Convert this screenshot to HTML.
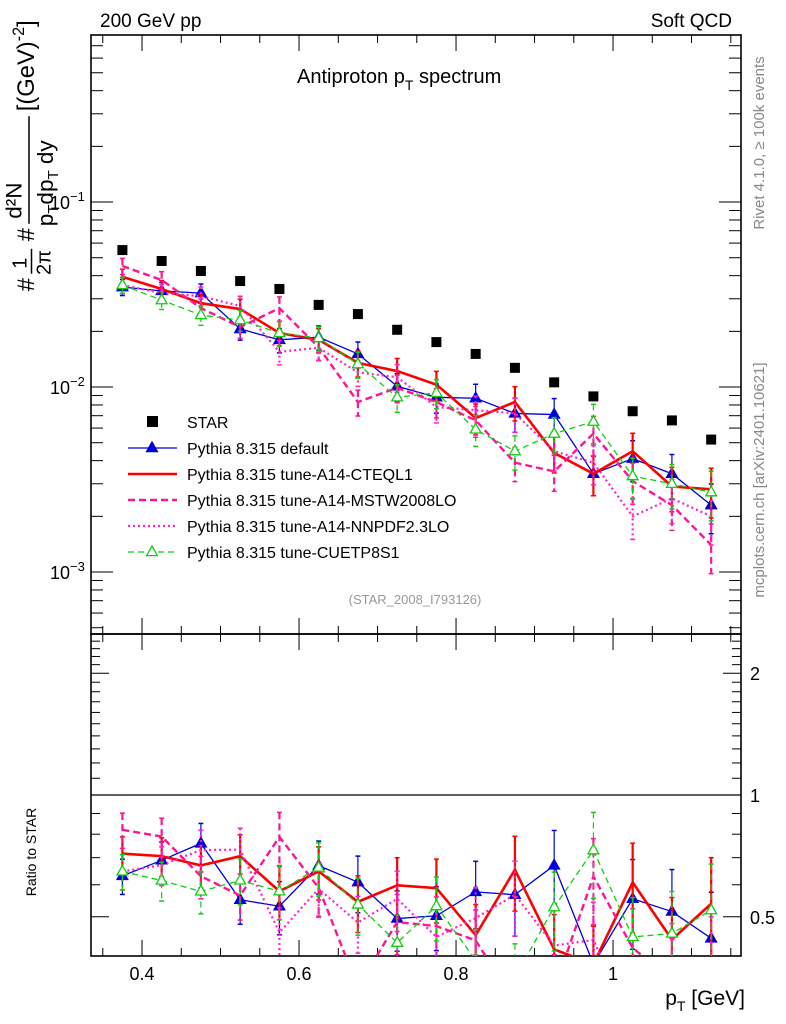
<!DOCTYPE html>
<html><head><meta charset="utf-8">
<style>
html,body{margin:0;padding:0;background:#fff;width:786px;height:1024px;overflow:hidden;}
svg{display:block;font-family:"Liberation Sans",sans-serif;}
</style></head>
<body>
<svg id="chart" width="786" height="1024" viewBox="0 0 786 1024" xmlns="http://www.w3.org/2000/svg">
<text x="100" y="27" font-size="19">200 GeV pp</text>
<text x="732" y="27" font-size="19" text-anchor="end">Soft QCD</text>
<text x="297" y="83" font-size="20">Antiproton p<tspan font-size="14" dy="7">T</tspan><tspan dy="-7"> spectrum</tspan></text>
<text transform="translate(764,143) rotate(-90)" font-size="15" fill="#888" text-anchor="middle">Rivet 4.1.0, ≥ 100k events</text>
<text transform="translate(764,480) rotate(-90)" font-size="15" fill="#888" text-anchor="middle">mcplots.cern.ch [arXiv:2401.10621]</text>
<text x="415" y="604" font-size="13" fill="#999" text-anchor="middle">(STAR_2008_I793126)</text>
<g transform="translate(34,150) rotate(-90) scale(1.25) translate(17,0)" font-size="19">
<text x="-130" y="0">#</text>
<text x="-112" y="-6" font-size="16">1</text>
<line x1="-116" y1="-2" x2="-96" y2="-2" stroke="#000" stroke-width="1.2"/>
<text x="-117" y="13" font-size="16">2π</text>
<text x="-90" y="0">#</text>
<text x="-72" y="-10" font-size="18">d²N</text>
<line x1="-76" y1="-4" x2="10" y2="-4" stroke="#000" stroke-width="1.2"/>
<text x="-78" y="15" font-size="18">p<tspan font-size="12" dy="4">T</tspan><tspan dy="-4">dp</tspan><tspan font-size="12" dy="4">T</tspan><tspan dy="-4"> dy</tspan></text>
<text x="14" y="0">[(GeV)<tspan font-size="13" dy="-8">-2</tspan><tspan dy="8">]</tspan></text>
</g>
<text transform="translate(36,852) rotate(-90)" font-size="14" text-anchor="middle">Ratio to STAR</text>
<text x="745" y="1005" font-size="21" text-anchor="end">p<tspan font-size="14" dy="6">T</tspan><tspan dy="-6"> [GeV]</tspan></text>
<g id="axes"></g>
<g id="marks"></g>
<g id="legend"></g>
</svg>
<script>
const xs=[0.375,0.425,0.475,0.525,0.575,0.625,0.675,0.725,0.775,0.825,0.875,0.925,0.975,1.025,1.075,1.125];
const star=[0.055,0.048,0.0424,0.0374,0.0339,0.0278,0.0248,0.0204,0.0175,0.0151,0.0127,0.0106,0.0089,0.0074,0.0066,0.0052];
const pyDefault=[0.0347,0.0331,0.0322,0.0206,0.0180,0.0186,0.0151,0.0101,0.0088,0.0087,0.0072,0.0071,0.0034,0.0041,0.0034,0.0023];
const pyA14CTEQ=[0.0394,0.0339,0.0284,0.0264,0.0196,0.0180,0.0135,0.0122,0.0103,0.0068,0.0083,0.0044,0.0034,0.0045,0.0029,0.0028];
const pyA14MSTW=[0.0451,0.0379,0.0267,0.0211,0.0267,0.0164,0.0083,0.0099,0.0083,0.0066,0.0039,0.0035,0.0056,0.0031,0.0023,0.0014];
const pyA14NNPDF=[0.0356,0.0322,0.0310,0.0274,0.0155,0.0163,0.0120,0.0113,0.0078,0.0075,0.0072,0.0045,0.0039,0.0020,0.0025,0.0020];
const pyCUETP8S1=[0.0356,0.0295,0.0245,0.0230,0.0196,0.0184,0.0133,0.0088,0.0093,0.0059,0.0045,0.0056,0.0065,0.0033,0.0030,0.0027];
const relErr=[0.10,0.11,0.12,0.13,0.15,0.15,0.16,0.17,0.18,0.19,0.21,0.22,0.24,0.25,0.27,0.30];
const xTicks=[0.4,0.6,0.8,1];
const xTickLabels=["0.4","0.6","0.8","1"];
const ratioTicks=[0.5,1,2];
const ratioTickLabels=["0.5","1","2"];

const L=91,R=741,T=35,MID=634,B=956;
const X0=0.335,X1=1.163;
const sx=v=>L+(v-X0)/(X1-X0)*(R-L);
const LOGTOP=-0.097,LOGBOT=-3.335;
const sy=v=>T+(LOGTOP-Math.log10(v))/(LOGTOP-LOGBOT)*(MID-T);
const RTOP=Math.log2(2.5),RBOT=Math.log2(0.4);
const sr=v=>MID+(RTOP-Math.log2(v))/(RTOP-RBOT)*(B-MID);
const NS="http://www.w3.org/2000/svg";
function mk(tag,attrs,parent){const e=document.createElementNS(NS,tag);for(const k in attrs)e.setAttribute(k,attrs[k]);parent.appendChild(e);return e;}
const axes=document.getElementById('axes'),marks=document.getElementById('marks'),leg=document.getElementById('legend');

const defs=mk('defs',{},document.getElementById('chart'));
const c1=mk('clipPath',{id:'ctop'},defs);mk('rect',{x:L,y:T,width:R-L,height:MID-T},c1);
const c2=mk('clipPath',{id:'crat'},defs);mk('rect',{x:L,y:MID,width:R-L,height:B-MID},c2);

let f=mk('rect',{x:L,y:T,width:R-L,height:MID-T,fill:'none',stroke:'#000','stroke-width':1.6},axes);


f=mk('rect',{x:L,y:MID,width:R-L,height:B-MID,fill:'none',stroke:'#000','stroke-width':1.6},axes);


let one=mk('line',{x1:L,x2:R,y1:sr(1),y2:sr(1),stroke:'#000','stroke-width':1.3},axes);



for(let v=0.35;v<1.16;v+=0.05){
  const vv=Math.round(v*100)/100;const major=Math.abs(vv*10-Math.round(vv*10))<1e-6&&Math.round(vv*10)%2==0;
  const len=major?16:8,x=sx(vv);
  [[T,1],[MID,-1],[MID,1],[B,-1]].forEach(([y,d])=>mk('line',{x1:x,x2:x,y1:y,y2:y+d*len,stroke:'#000','stroke-width':1},axes));
}
xTicks.forEach((v,i)=>{const t=mk('text',{x:sx(v),y:980,'font-size':18,'text-anchor':'middle'},axes);t.textContent=xTickLabels[i];

});

for(let e=-4;e<=0;e++){for(let k=1;k<10;k++){const v=k*Math.pow(10,e);const y=sy(v);if(y<T||y>MID)continue;const len=k==1?22:12;
  mk('line',{x1:L,x2:L+len,y1:y,y2:y,stroke:'#000','stroke-width':1},axes);
  mk('line',{x1:R,x2:R-len,y1:y,y2:y,stroke:'#000','stroke-width':1},axes);}}
[-1,-2,-3].forEach(e=>{const t=mk('text',{x:50,y:sy(Math.pow(10,e))+7,'font-size':18},axes);
t.innerHTML='10<tspan font-size="13" dy="-8">−'+(-e)+'</tspan>';

});

for(let v=0.4;v<=2.5001;v+=0.1){const vv=Math.round(v*10)/10;const y=sr(vv);const major=[0.5,1,2].includes(vv);const len=major?18:9;
  mk('line',{x1:L,x2:L+len,y1:y,y2:y,stroke:'#000','stroke-width':1},axes);
  mk('line',{x1:R,x2:R-len,y1:y,y2:y,stroke:'#000','stroke-width':1},axes);}
ratioTicks.forEach((v,i)=>{const t=mk('text',{x:750,y:sr(v)+7,'font-size':18},axes);t.textContent=ratioTickLabels[i];

});

star.forEach((v,i)=>{const r=mk('rect',{x:sx(xs[i])-5,y:sy(v)-5,width:10,height:10,fill:'#000'},marks);

});

const series=[
 {name:'pythia-default',data:pyDefault,color:'#0000dd',w:1.3,dash:'',marker:'tri-filled',label:'Pythia 8.315 default'},
 {name:'pythia-a14-cteql1',data:pyA14CTEQ,color:'#ff0000',w:2.6,dash:'',marker:'',label:'Pythia 8.315 tune-A14-CTEQL1'},
 {name:'pythia-a14-mstw2008lo',data:pyA14MSTW,color:'#ff1493',w:2.4,dash:'7,4',marker:'',label:'Pythia 8.315 tune-A14-MSTW2008LO'},
 {name:'pythia-a14-nnpdf23lo',data:pyA14NNPDF,color:'#ff22cc',w:2.2,dash:'2,3',marker:'',label:'Pythia 8.315 tune-A14-NNPDF2.3LO'},
 {name:'pythia-cuetp8s1',data:pyCUETP8S1,color:'#11cc11',w:1.3,dash:'6,4',marker:'tri-open',label:'Pythia 8.315 tune-CUETP8S1'}
];
function tri(x,y,s,open,color,parent){return mk('path',{d:`M${x},${y-s}L${x+s*0.9},${y+s*0.6}L${x-s*0.9},${y+s*0.6}Z`,fill:open?'#fff':color,stroke:color,'stroke-width':1.3},parent);}
function drawPanel(s,scale,clip,ratio){
  const g=mk('g',{'clip-path':`url(#${clip})`},marks);
  
  
  const val=i=>ratio?s.data[i]/star[i]:s.data[i];
  s.data.forEach((v,i)=>{const x=sx(xs[i]),e=val(i)*relErr[i];const y1=scale(val(i)+e),y2=scale(Math.max(val(i)-e,1e-6));
    mk('line',{x1:x,x2:x,y1:y1,y2:y2,stroke:s.color,'stroke-width':s.w>2?2.2:1.2,'stroke-dasharray':s.dash},g);
    mk('line',{x1:x-2.5,x2:x+2.5,y1:y1,y2:y1,stroke:s.color,'stroke-width':1.5},g);
    mk('line',{x1:x-2.5,x2:x+2.5,y1:y2,y2:y2,stroke:s.color,'stroke-width':1.5},g);});
  const pts=s.data.map((v,i)=>sx(xs[i])+','+scale(val(i))).join(' ');
  mk('polyline',{points:pts,fill:'none',stroke:s.color,'stroke-width':s.w,'stroke-dasharray':s.dash},g);
  if(s.marker)s.data.forEach((v,i)=>tri(sx(xs[i]),scale(val(i)),6,s.marker=='tri-open',s.color,g));
}
series.forEach(s=>{drawPanel(s,sy,'ctop',false);drawPanel(s,sr,'crat',true);});

const ly=[422,448,474,500,526,552];
let r=mk('rect',{x:147,y:ly[0]-6,width:11,height:11,fill:'#000'},leg);
let t=mk('text',{x:187,y:ly[0]+6,'font-size':16},leg);t.textContent='STAR';


series.forEach((s,i)=>{const y=ly[i+1];
  mk('line',{x1:128,x2:177,y1:y,y2:y,stroke:s.color,'stroke-width':s.w,'stroke-dasharray':s.dash},leg);
  if(s.marker)tri(152,y,6,s.marker=='tri-open',s.color,leg);
  const tt=mk('text',{x:187,y:y+6,'font-size':16},leg);tt.textContent=s.label;
  
  });
</script>
</body></html>
